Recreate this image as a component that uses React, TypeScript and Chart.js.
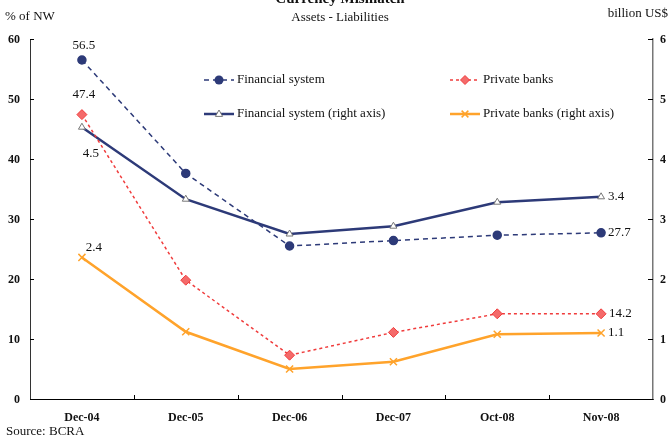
import React, { useEffect, useRef } from "react";
import { Chart, registerables } from "chart.js";

Chart.register(...registerables);

const categories = ["Dec-04", "Dec-05", "Dec-06", "Dec-07", "Oct-08", "Nov-08"];
const financialSystem = [56.5, 37.6, 25.5, 26.4, 27.3, 27.7];
const privateBanks = [47.4, 19.8, 7.3, 11.1, 14.2, 14.2];
const financialSystemRight = [4.53, 3.33, 2.75, 2.88, 3.28, 3.37];
const privateBanksRight = [2.36, 1.12, 0.5, 0.62, 1.08, 1.1];
const leftTicks = [0, 10, 20, 30, 40, 50, 60];
const rightTicks = [0, 1, 2, 3, 4, 5, 6];

const NAVY = "#2d3a78";
const RED = "#f03c3c";
const RED_FILL = "#f46a6a";
const ORANGE = "#ffa32b";
const SERIF = "'Liberation Serif', 'Times New Roman', serif";

function drawMarker(ctx: CanvasRenderingContext2D, style: string, x: number, y: number, r: number, fill: string, stroke: string) {
  ctx.save();
  ctx.setLineDash([]);
  ctx.beginPath();
  if (style === "circle") {
    ctx.arc(x, y, r, 0, Math.PI * 2);
    ctx.fillStyle = fill; ctx.fill();
  } else if (style === "rectRot") {
    ctx.moveTo(x, y - r); ctx.lineTo(x + r, y); ctx.lineTo(x, y + r); ctx.lineTo(x - r, y); ctx.closePath();
    ctx.fillStyle = fill; ctx.fill(); ctx.strokeStyle = stroke; ctx.lineWidth = 1; ctx.stroke();
  } else if (style === "triangle") {
    ctx.moveTo(x, y - r); ctx.lineTo(x + r * 0.9, y + r * 0.6); ctx.lineTo(x - r * 0.9, y + r * 0.6); ctx.closePath();
    ctx.fillStyle = fill; ctx.fill(); ctx.strokeStyle = stroke; ctx.lineWidth = 1; ctx.stroke();
  } else if (style === "crossRot") {
    const d = r * 0.75;
    ctx.moveTo(x - d, y - d); ctx.lineTo(x + d, y + d); ctx.moveTo(x + d, y - d); ctx.lineTo(x - d, y + d);
    ctx.strokeStyle = stroke; ctx.lineWidth = 1.5; ctx.stroke();
  }
  ctx.restore();
}

const legendItems = [
  { text: "Financial system", x: 204, y: 80, color: NAVY, dash: [5, 4], width: 1.5, style: "circle", fill: NAVY, stroke: NAVY },
  { text: "Private banks", x: 450, y: 80, color: RED, dash: [3, 3], width: 1.5, style: "rectRot", fill: RED_FILL, stroke: RED },
  { text: "Financial system (right axis)", x: 204, y: 114, color: NAVY, dash: [], width: 2.5, style: "triangle", fill: "#ffffff", stroke: "#777777" },
  { text: "Private banks (right axis)", x: 450, y: 114, color: ORANGE, dash: [], width: 2.5, style: "crossRot", fill: ORANGE, stroke: ORANGE },
];

const overlayPlugin = {
  id: "overlay",
  afterDraw(chart: any) {
    const ctx: CanvasRenderingContext2D = chart.ctx;
    const { left, right, bottom } = chart.chartArea;
    const xs = chart.scales.x;
    const yl = chart.scales.y;
    const yr = chart.scales.y1;
    ctx.save();
    // tick marks (inward)
    ctx.strokeStyle = "#000";
    ctx.lineWidth = 1;
    ctx.beginPath();
    leftTicks.forEach((v) => {
      const y = Math.round(yl.getPixelForValue(v)) + 0.5;
      ctx.moveTo(left, y); ctx.lineTo(left + 4, y);
    });
    rightTicks.forEach((v) => {
      const y = Math.round(yr.getPixelForValue(v)) + 0.5;
      ctx.moveTo(right - 5, y); ctx.lineTo(right, y);
    });
    for (let i = 0; i < categories.length - 1; i++) {
      const x = Math.round((xs.getPixelForValue(i) + xs.getPixelForValue(i + 1)) / 2) + 0.5;
      ctx.moveTo(x, bottom); ctx.lineTo(x, bottom - 4);
    }
    ctx.stroke();

    // axis tick labels
    ctx.fillStyle = "#111";
    ctx.font = `bold 12px ${SERIF}`;
    ctx.textBaseline = "middle";
    ctx.textAlign = "right";
    leftTicks.forEach((v) => {
      ctx.fillText(String(v), left - 10, yl.getPixelForValue(v) + 1);
    });
    ctx.textAlign = "left";
    rightTicks.forEach((v) => {
      ctx.fillText(String(v), right + 7, yr.getPixelForValue(v) + 1);
    });

    // titles
    ctx.fillStyle = "#111";
    ctx.textBaseline = "middle";
    ctx.textAlign = "center";
    ctx.font = `bold 15px ${SERIF}`;
    ctx.fillText("Currency Mismatch", 340, -1);
    ctx.font = `13px ${SERIF}`;
    ctx.fillText("Assets - Liabilities", 340, 18);
    ctx.textAlign = "left";
    ctx.fillText("% of NW", 5, 17);
    ctx.textAlign = "right";
    ctx.fillText("billion US$", 668, 14);
    ctx.textAlign = "left";
    ctx.fillText("Source: BCRA", 6, 432);

    // legend
    legendItems.forEach((it) => {
      ctx.save();
      ctx.strokeStyle = it.color;
      ctx.lineWidth = it.width;
      ctx.setLineDash(it.dash);
      ctx.beginPath();
      ctx.moveTo(it.x, it.y); ctx.lineTo(it.x + 30, it.y);
      ctx.stroke();
      ctx.restore();
      drawMarker(ctx, it.style, it.x + 15, it.y, it.style === "triangle" ? 4 : 4.5, it.fill, it.stroke);
      ctx.fillStyle = "#111";
      ctx.font = `13px ${SERIF}`;
      ctx.textAlign = "left";
      ctx.textBaseline = "middle";
      ctx.fillText(it.text, it.x + 33, it.y);
    });

    // data labels
    ctx.font = `13px ${SERIF}`;
    ctx.fillStyle = "#111";
    const lab = (ds: number, i: number, dx: number, dy: number, align: CanvasTextAlign) => {
      const meta = chart.getDatasetMeta(ds);
      const pt = meta.data[i];
      const v = chart.data.datasets[ds].data[i] as number;
      ctx.textAlign = align;
      ctx.fillText(v.toFixed(1), pt.x + dx, pt.y + dy);
    };
    const last = categories.length - 1;
    lab(0, 0, 2, -14, "center");
    lab(1, 0, 2, -20, "center");
    lab(2, 0, 9, 26, "center");
    lab(3, 0, 12, -10, "center");
    lab(0, last, 7, 0, "left");
    lab(1, last, 8, 0, "left");
    lab(2, last, 7, 0, "left");
    lab(3, last, 7, 0, "left");
    ctx.restore();
  },
};

export default function App() {
  const ref = useRef<HTMLCanvasElement>(null);
  useEffect(() => {
    if (!ref.current) return;
    const tickFont = { family: SERIF, size: 12, weight: "bold" as const };
    const chart = new Chart(ref.current, {
      type: "line",
      data: {
        labels: categories,
        datasets: [
          {
            label: "Financial system", data: financialSystem, yAxisID: "y",
            borderColor: NAVY, borderWidth: 1.5, borderDash: [5, 4],
            pointStyle: "circle", pointRadius: 4, pointBackgroundColor: NAVY, pointBorderColor: NAVY,
          },
          {
            label: "Private banks", data: privateBanks, yAxisID: "y",
            borderColor: RED, borderWidth: 1.5, borderDash: [3, 3],
            pointStyle: "rectRot", pointRadius: 5, pointBackgroundColor: RED_FILL, pointBorderColor: RED, pointBorderWidth: 1,
          },
          {
            label: "Financial system (right axis)", data: financialSystemRight, yAxisID: "y1",
            borderColor: NAVY, borderWidth: 2.5,
            pointStyle: "triangle", pointRadius: 4, pointBackgroundColor: "#ffffff", pointBorderColor: "#777777", pointBorderWidth: 1,
          },
          {
            label: "Private banks (right axis)", data: privateBanksRight, yAxisID: "y1",
            borderColor: ORANGE, borderWidth: 2.5,
            pointStyle: "crossRot", pointRadius: 5, pointBackgroundColor: ORANGE, pointBorderColor: ORANGE, pointBorderWidth: 1.5,
          },
        ],
      },
      options: {
        responsive: false,
        animation: false,
        layout: { padding: { top: 39, left: 0, right: 0, bottom: 0 } },
        plugins: { legend: { display: false }, tooltip: { enabled: false }, title: { display: false } },
        scales: {
          x: {
            type: "category",
            offset: true,
            grid: { display: false },
            border: { display: true, color: "#000", width: 1 },
            ticks: { color: "#111", font: tickFont, padding: 4, maxRotation: 0 },
            afterFit: (s: any) => { s.height = 41; },
          },
          y: {
            position: "left",
            min: 0, max: 60,
            grid: { display: false },
            border: { display: true, color: "#333", width: 1 },
            ticks: { display: false, stepSize: 10 },
            afterFit: (s: any) => { s.width = 30; },
          },
          y1: {
            position: "right",
            min: 0, max: 6,
            grid: { display: false },
            border: { display: true, color: "#777", width: 1.5 },
            ticks: { display: false, stepSize: 1 },
            afterFit: (s: any) => { s.width = 15; },
          },
        },
      },
      plugins: [overlayPlugin],
    });
    return () => chart.destroy();
  }, []);
  return (
    <div style={{ position: "fixed", left: 0, top: 0, width: 668, height: 440, background: "#fff" }}>
      <canvas ref={ref} width={668} height={440} style={{ display: "block" }} />
    </div>
  );
}
